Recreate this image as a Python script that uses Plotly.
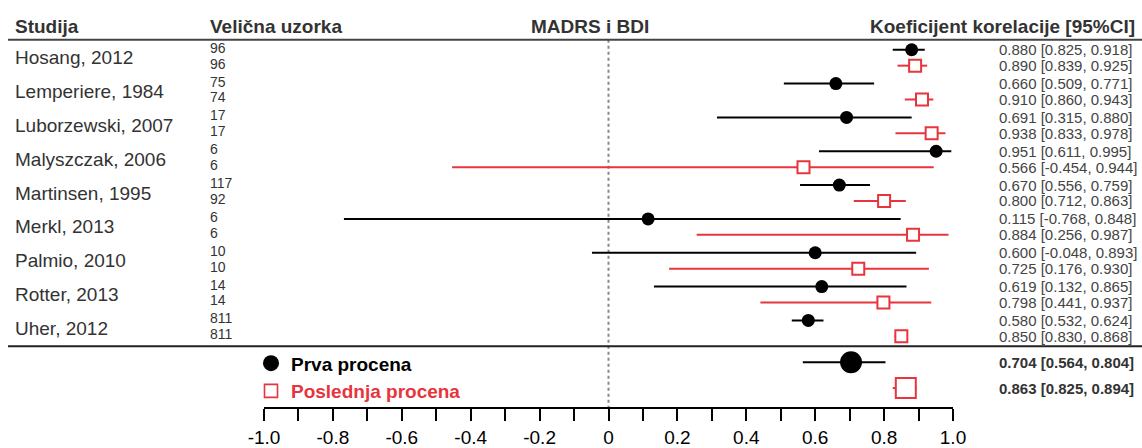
import plotly.graph_objects as go

# ---- data ----
studies = ["Hosang, 2012", "Lemperiere, 1984", "Luborzewski, 2007", "Malyszczak, 2006",
           "Martinsen, 1995", "Merkl, 2013", "Palmio, 2010", "Rotter, 2013", "Uher, 2012"]
n_first = [96, 75, 17, 6, 117, 6, 10, 14, 811]
n_last = [96, 74, 17, 6, 92, 6, 10, 14, 811]

r_first = [0.880, 0.660, 0.691, 0.951, 0.670, 0.115, 0.600, 0.619, 0.580]
lo_first = [0.825, 0.509, 0.315, 0.611, 0.556, -0.768, -0.048, 0.132, 0.532]
hi_first = [0.918, 0.771, 0.880, 0.995, 0.759, 0.848, 0.893, 0.865, 0.624]

r_last = [0.890, 0.910, 0.938, 0.566, 0.800, 0.884, 0.725, 0.798, 0.850]
lo_last = [0.839, 0.860, 0.833, -0.454, 0.712, 0.256, 0.176, 0.441, 0.830]
hi_last = [0.925, 0.943, 0.978, 0.944, 0.863, 0.987, 0.930, 0.937, 0.868]

pooled_first = [0.704, 0.564, 0.804]
pooled_last = [0.863, 0.825, 0.894]

tick_vals = [-1.0, -0.9, -0.8, -0.7, -0.6, -0.5, -0.4, -0.3, -0.2, -0.1, 0.0,
             0.1, 0.2, 0.3, 0.4, 0.5, 0.6, 0.7, 0.8, 0.9, 1.0]
tick_text = ["-1.0", "", "-0.8", "", "-0.6", "", "-0.4", "", "-0.2", "", "0",
             "", "0.2", "", "0.4", "", "0.6", "", "0.8", "", "1.0"]

# ---- layout geometry ----
W, H = 1142, 448
ML, MR, MT, MB = 264, 189, 0, 39
PLOT_W = W - ML - MR
ROW_PX = 34.0          # pixels per study row
TOP_ROW_PX = 50.0      # pixel y of the first study's circle
PAIR_OFFSET = 0.47     # second estimate sits just below the first

RED = "#E8343C"
FONT = "Liberation Sans, Arial, sans-serif"


def px_x(p):
    """Horizontal pixel position -> paper coordinate."""
    return (p - ML) / PLOT_W


def px_y(p):
    """Vertical pixel position -> y data coordinate."""
    return (p - TOP_ROW_PX) / ROW_PX


y_first = [i for i in range(len(studies))]
y_last = [i + PAIR_OFFSET for i in range(len(studies))]
y_pool_first = px_y(364)
y_pool_last = px_y(390)


def fmt(v):
    return f"{v:.3f}"


def ci_label(r, lo, hi):
    return f"{fmt(r)} [{fmt(lo)}, {fmt(hi)}]"


def ci_error(est, lo, hi, color):
    return dict(type="data", symmetric=False,
                array=[h - r for r, h in zip(est, hi)],
                arrayminus=[r - l for r, l in zip(est, lo)],
                color=color, thickness=2, width=0)


fig = go.Figure()

# individual studies - first assessment
fig.add_trace(go.Scatter(
    x=r_first, y=y_first, mode="markers", showlegend=False, hoverinfo="skip",
    marker=dict(symbol="circle", size=13, color="black", line=dict(width=0)),
    error_x=ci_error(r_first, lo_first, hi_first, "black"),
))

# individual studies - last assessment
fig.add_trace(go.Scatter(
    x=r_last, y=y_last, mode="markers", showlegend=False, hoverinfo="skip",
    marker=dict(symbol="square", size=12, color="white", line=dict(width=2, color=RED)),
    error_x=ci_error(r_last, lo_last, hi_last, RED),
))

# pooled estimates
fig.add_trace(go.Scatter(
    x=[pooled_first[0]], y=[y_pool_first], mode="markers", hoverinfo="skip", showlegend=False,
    marker=dict(symbol="circle", size=22, color="black", line=dict(width=0)),
    error_x=ci_error([pooled_first[0]], [pooled_first[1]], [pooled_first[2]], "black"),
))
fig.add_trace(go.Scatter(
    x=[pooled_last[0]], y=[y_pool_last], mode="markers", hoverinfo="skip", showlegend=False,
    marker=dict(symbol="square", size=20, color="white", line=dict(width=2, color=RED)),
    error_x=ci_error([pooled_last[0]], [pooled_last[1]], [pooled_last[2]], RED),
))

# legend entries (no data of their own)
fig.add_trace(go.Scatter(
    x=[None], y=[None], mode="markers", hoverinfo="skip",
    name="<b>Prva procena</b>",
    marker=dict(symbol="circle", size=16, color="black", line=dict(width=0)),
))
fig.add_trace(go.Scatter(
    x=[None], y=[None], mode="markers", hoverinfo="skip",
    name=f"<b><span style='color:{RED}'>Poslednja procena</span></b>",
    marker=dict(symbol="square", size=13, color="white", line=dict(width=1.6, color=RED)),
))

annotations = []


def add_text(text, xpix, y, size, color="#333", anchor="left", bold=False):
    annotations.append(dict(
        text=f"<b>{text}</b>" if bold else text,
        x=px_x(xpix), xref="paper", y=y, yref="y",
        xanchor=anchor, yanchor="middle", showarrow=False,
        font=dict(family=FONT, size=size, color=color),
    ))


# column headers
head_y = px_y(27)
add_text("Studija", 13, head_y, 19, bold=True)
add_text("Velična uzorka", 208, head_y, 19, bold=True)
add_text("MADRS i BDI", 590, head_y, 19, anchor="center", bold=True)
add_text("Koeficijent korelacije [95%CI]", 1137, head_y, 19, anchor="right", bold=True)

# study rows
for i, name in enumerate(studies):
    add_text(name, 13, (y_first[i] + y_last[i]) / 2, 19)
    add_text(str(n_first[i]), 208, y_first[i] - 0.06, 14)
    add_text(str(n_last[i]), 208, y_last[i] - 0.06, 14)
    add_text(ci_label(r_first[i], lo_first[i], hi_first[i]), 997, y_first[i], 15, color="#444")
    add_text(ci_label(r_last[i], lo_last[i], hi_last[i]), 997, y_last[i], 15, color="#444")

# pooled rows
add_text(ci_label(*pooled_first), 997, y_pool_first, 15, bold=True)
add_text(ci_label(*pooled_last), 997, y_pool_last, 15, bold=True)

shapes = [
    # rule under the header
    dict(type="line", xref="paper", yref="y", x0=px_x(8), x1=px_x(W), y0=px_y(40), y1=px_y(40),
         line=dict(color="#444", width=2)),
    # rule above the pooled estimates
    dict(type="line", xref="paper", yref="y", x0=px_x(8), x1=px_x(W), y0=px_y(348), y1=px_y(348),
         line=dict(color="#222", width=2)),
    # line of no correlation
    dict(type="line", xref="x", yref="y", x0=0, x1=0, y0=px_y(40), y1=px_y(409),
         line=dict(color="#888", width=2, dash="dot"), layer="below"),
]

fig.update_layout(
    width=W, height=H,
    margin=dict(l=ML, r=MR, t=MT, b=MB, pad=0),
    paper_bgcolor="white", plot_bgcolor="white",
    font=dict(family=FONT, color="black"),
    annotations=annotations, shapes=shapes,
    showlegend=True,
    legend=dict(x=px_x(251), y=(H - MB - 346) / (H - MB - MT), xanchor="left", yanchor="top",
                bgcolor="rgba(0,0,0,0)", borderwidth=0, itemsizing="trace",
                font=dict(family=FONT, size=19, color="black"),
                itemclick=False, itemdoubleclick=False),
    xaxis=dict(range=[-1, 1], tickmode="array", tickvals=tick_vals, ticktext=tick_text,
               ticks="outside", ticklen=12, tickwidth=2, tickcolor="black",
               showline=True, linecolor="black", linewidth=2, mirror=False,
               showgrid=False, zeroline=False,
               tickfont=dict(family=FONT, size=19, color="black"),
               fixedrange=True),
    yaxis=dict(range=[px_y(H - MB), px_y(0)], visible=False, showgrid=False,
               zeroline=False, fixedrange=True),
)

fig.write_html("out.html", config={"displayModeBar": False})
